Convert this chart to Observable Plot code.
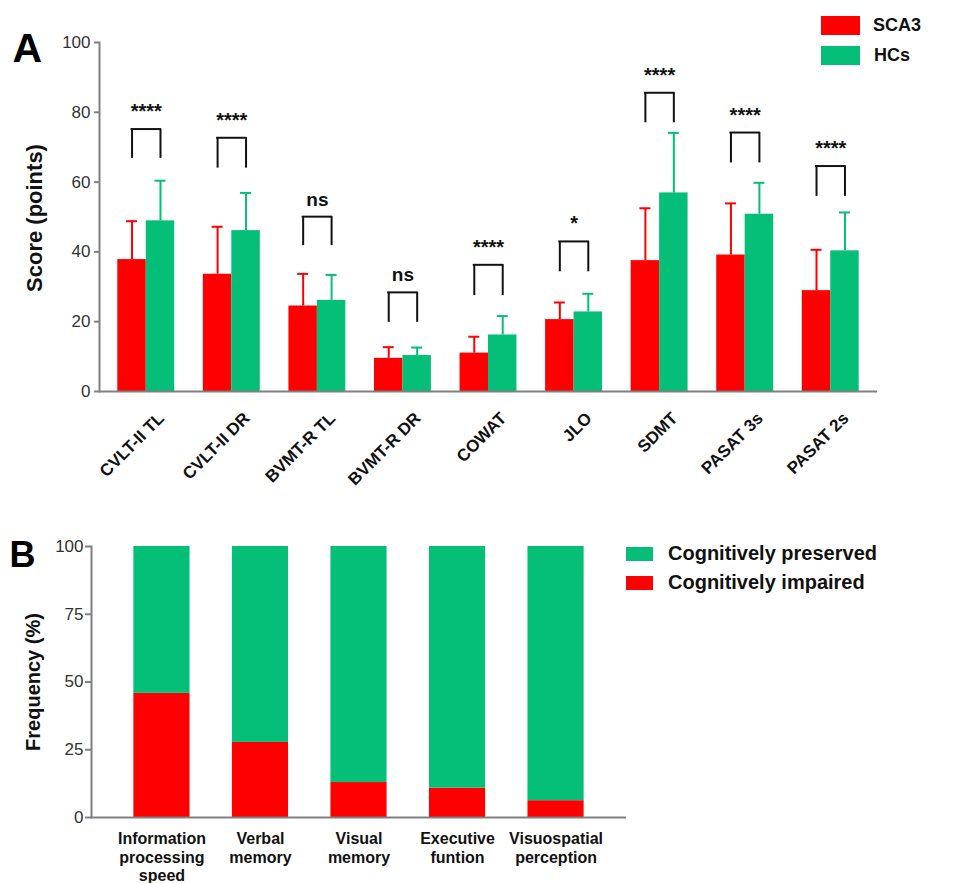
<!DOCTYPE html>
<html>
<head>
<meta charset="utf-8">
<script src="https://cdn.jsdelivr.net/npm/d3@7"></script>
<script src="https://cdn.jsdelivr.net/npm/@observablehq/plot@0.6"></script>
<style>
  body { margin: 0; background: #fff; }
  #wrap { position: relative; width: 968px; height: 883px; font-family: "Liberation Sans", Arial, sans-serif; }
  #wrap svg { display: block; }
  .leg { position: absolute; display: flex; align-items: center; font-weight: bold; color: #111; white-space: nowrap; }
  .sw { display: inline-block; }
</style>
</head>
<body>
<div id="wrap"></div>
<script>
// ---------- Panel A data ----------
const tests = ["CVLT-II TL", "CVLT-II DR", "BVMT-R TL", "BVMT-R DR", "COWAT", "JLO", "SDMT", "PASAT 3s", "PASAT 2s"];
const sca3Mean = [37.8, 33.6, 24.5, 9.5, 11.0, 20.6, 37.5, 39.1, 28.9];
const sca3Sd   = [11.0, 13.6, 9.2, 3.2, 4.7, 4.9, 15.0, 14.8, 11.7];
const hcMean   = [48.9, 46.1, 26.1, 10.3, 16.2, 22.8, 56.9, 50.8, 40.3];
const hcSd     = [11.5, 10.8, 7.3, 2.3, 5.4, 5.2, 17.2, 9.0, 11.0];
const sigLabels     = ["****", "****", "ns", "ns", "****", "*", "****", "****", "****"];
const bracketTop    = [75.2, 72.7, 50.1, 28.4, 36.3, 43.0, 85.6, 74.2, 64.6];
const bracketBottom = [66.8, 64.0, 41.8, 19.8, 27.5, 34.3, 77.0, 65.5, 55.9];
const yTicksA = [0, 20, 40, 60, 80, 100];
const groupsA = ["SCA3", "HCs"];

// ---------- Panel B data ----------
const domains = ["Information\nprocessing\nspeed", "Verbal\nmemory", "Visual\nmemory", "Executive\nfuntion", "Visuospatial\nperception"];
const impaired = [45.8, 27.7, 12.9, 10.8, 6.2];
const statuses = ["Cognitively impaired", "Cognitively preserved"];
const yTicksB = [0, 25, 50, 75, 100];

const RED = "#ff0000";
const GREEN = "#05be78";
const AXIS = "#808080";
const FONT = "Liberation Sans, Arial, sans-serif";

const wrap = document.getElementById("wrap");

// ---------- Panel A ----------
const rowsA = tests.map((t, i) => ({
  test: t, sca3: sca3Mean[i], sca3Err: sca3Mean[i] + sca3Sd[i],
  hc: hcMean[i], hcErr: hcMean[i] + hcSd[i],
  sig: sigLabels[i], top: bracketTop[i], bottom: bracketBottom[i]
}));

const WA = 968, HA = 500, mLA = 99, mRA = 91, mTA = 42, mBA = 109;
const pIn = 0.335, pOut = 0.214;
const stepA = (WA - mLA - mRA) / (tests.length - pIn + 2 * pOut);
const bwA = stepA * (1 - pIn);
const half = bwA / 2, q = bwA / 4, cap = 5.5;

const plotA = Plot.plot({
  width: WA, height: HA,
  marginLeft: mLA, marginRight: mRA, marginTop: mTA, marginBottom: mBA,
  style: {fontFamily: FONT, background: "#fff"},
  x: {domain: tests, paddingInner: pIn, paddingOuter: pOut, round: false, axis: null},
  y: {domain: [0, 100], axis: null},
  marks: [
    Plot.barY(rowsA, {x: "test", y: "sca3", fill: RED, insetRight: half}),
    Plot.barY(rowsA, {x: "test", y: "hc", fill: GREEN, insetLeft: half}),
    // error bars (upper only)
    Plot.ruleX(rowsA, {x: "test", y1: "sca3", y2: "sca3Err", dx: -q, stroke: RED, strokeWidth: 2}),
    Plot.tickY(rowsA, {x: "test", y: "sca3Err", insetLeft: q - cap, insetRight: 3 * q - cap, stroke: RED, strokeWidth: 2}),
    Plot.ruleX(rowsA, {x: "test", y1: "hc", y2: "hcErr", dx: q, stroke: GREEN, strokeWidth: 2}),
    Plot.tickY(rowsA, {x: "test", y: "hcErr", insetLeft: 3 * q - cap, insetRight: q - cap, stroke: GREEN, strokeWidth: 2}),
    // significance brackets
    Plot.ruleY(rowsA, {x1: "test", x2: "test", y: "top", insetLeft: q - 1, insetRight: q - 1, stroke: "#111", strokeWidth: 2}),
    Plot.ruleX(rowsA, {x: "test", y1: "bottom", y2: "top", dx: -q, stroke: "#111", strokeWidth: 2}),
    Plot.ruleX(rowsA, {x: "test", y1: "bottom", y2: "top", dx: q, stroke: "#111", strokeWidth: 2}),
    Plot.text(rowsA, {x: "test", y: "top", text: "sig", dy: -11, lineAnchor: "bottom",
      fontSize: d => d.sig === "ns" ? 19 : 20, fontWeight: "bold", fill: "#111"}),
    // axes
    Plot.ruleY([0], {stroke: AXIS, strokeWidth: 2}),
    Plot.frame({anchor: "left", stroke: AXIS, strokeWidth: 2}),
    Plot.axisY({ticks: yTicksA, tickSize: 5, tickPadding: 4, fontSize: 17, stroke: AXIS, strokeWidth: 2, fill: "#333", label: null}),
    Plot.text(tests, {x: d => d, frameAnchor: "bottom", rotate: -45, textAnchor: "end", lineAnchor: "middle",
      dx: 15, dy: 24, fontSize: 17, fontWeight: "bold", fill: "#111"}),
    Plot.text(["Score (points)"], {frameAnchor: "left", textAnchor: "middle", lineAnchor: "middle", rotate: -90, dx: -65, dy: 1, fontSize: 22, fontWeight: "bold", fill: "#111"}),
    Plot.text(["A"], {frameAnchor: "top-left", textAnchor: "start", lineAnchor: "top", dx: -87, dy: -10, fontSize: 41, fontWeight: "bold", fill: "#000"})
  ]
});
wrap.appendChild(plotA);

// ---------- Panel B ----------
const rowsB = [];
statuses.forEach(s => domains.forEach((d, i) => {
  rowsB.push({domain: d, status: s, value: s === "Cognitively impaired" ? impaired[i] : 100 - impaired[i]});
}));

const WB = 968, HB = 383, mLB = 91, mRB = 342, mTB = 46, mBB = 66;
const plotB = Plot.plot({
  width: WB, height: HB,
  marginLeft: mLB, marginRight: mRB, marginTop: mTB, marginBottom: mBB,
  style: {fontFamily: FONT, background: "#fff"},
  x: {domain: domains, padding: 0.43, round: false, axis: null},
  y: {domain: [0, 100], axis: null},
  color: {domain: statuses, range: [RED, GREEN]},
  marks: [
    Plot.barY(rowsB, {x: "domain", y: "value", fill: "status"}),
    Plot.ruleY([0], {stroke: AXIS, strokeWidth: 2}),
    Plot.frame({anchor: "left", stroke: AXIS, strokeWidth: 2}),
    Plot.axisY({ticks: yTicksB, tickSize: 6, tickPadding: 2, fontSize: 17, stroke: AXIS, strokeWidth: 2, fill: "#333", label: null}),
    Plot.axisX({tickSize: 0, tickPadding: 13, fontSize: 16, fontWeight: "bold", lineHeight: 1.17, fill: "#111", label: null}),
    Plot.text(["Frequency (%)"], {frameAnchor: "left", textAnchor: "middle", lineAnchor: "middle", rotate: -90, dx: -58, fontSize: 20, fontWeight: "bold", fill: "#111"}),
    Plot.text(["B"], {frameAnchor: "top-left", textAnchor: "start", lineAnchor: "top", dx: -82, dy: -5, fontSize: 36, fontWeight: "bold", fill: "#000"})
  ]
});
wrap.appendChild(plotB);

// ---------- Legends (HTML) ----------
function legendItem(left, top, w, h, color, label, fontSize, gap) {
  const el = document.createElement("div");
  el.className = "leg";
  el.style.left = left + "px";
  el.style.top = top + "px";
  el.style.height = h + "px";
  el.style.fontSize = fontSize + "px";
  const sw = document.createElement("span");
  sw.className = "sw";
  sw.style.width = w + "px";
  sw.style.height = h + "px";
  sw.style.background = color;
  sw.style.marginRight = gap + "px";
  el.appendChild(sw);
  el.appendChild(document.createTextNode(label));
  wrap.appendChild(el);
}
legendItem(821, 16, 39, 19, RED, groupsA[0], 18, 13);
legendItem(821, 45.5, 39, 19, GREEN, groupsA[1], 18, 14);
legendItem(626, 546.5, 27, 14.5, GREEN, statuses[1], 20, 15);
legendItem(626, 575.5, 27, 14.5, RED, statuses[0], 20, 15);
</script>
</body>
</html>
